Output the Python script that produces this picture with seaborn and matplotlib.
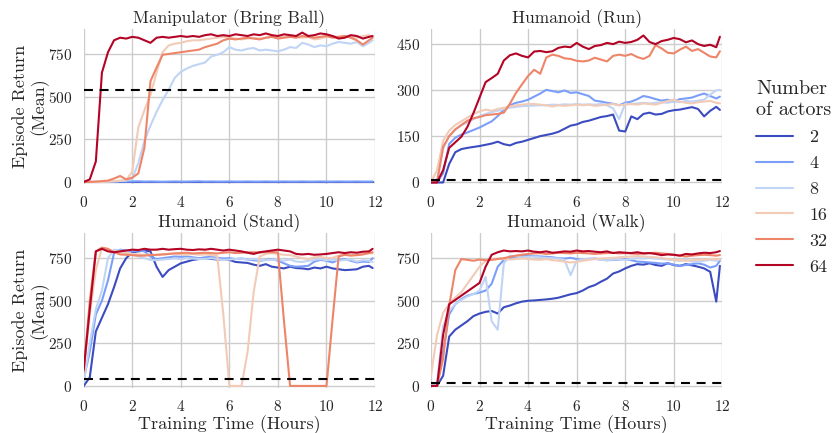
import numpy as np
import pandas as pd
import seaborn as sns
import matplotlib.pyplot as plt
from matplotlib.lines import Line2D

# time grid (hours) shared by every curve
hours = [0.0, 0.25, 0.5, 0.75, 1.0, 1.25, 1.5, 1.75, 2.0, 2.25, 2.5, 2.75,
         3.0, 3.25, 3.5, 3.75, 4.0, 4.25, 4.5, 4.75, 5.0, 5.25, 5.5, 5.75,
         6.0, 6.25, 6.5, 6.75, 7.0, 7.25, 7.5, 7.75, 8.0, 8.25, 8.5, 8.75,
         9.0, 9.25, 9.5, 9.75, 10.0, 10.25, 10.5, 10.75, 11.0, 11.25, 11.5, 11.75, 11.9]

actors = ["2", "4", "8", "16", "32", "64"]

# Manipulator (Bring Ball)
manip_2 = [0, 0, 0, 0, 0, 0, 0, 0, 0, 0, 0, 0,
           0, 0, 0, 0, 0, 0, 0, 0, 0, 0, 0, 0,
           0, 0, 0, 0, 0, 0, 0, 0, 0, 0, 0, 0,
           0, 0, 0, 0, 0, 0, 0, 0, 0, 0, 0, 0, 0]
manip_4 = [0, 0, 0, 0, 1, 2, 3, 2, 3, 4, 2, 3,
           2, 1, 2, 3, 2, 2, 3, 4, 2, 3, 2, 2,
           3, 2, 2, 3, 2, 2, 3, 2, 2, 3, 2, 2,
           3, 2, 2, 3, 2, 2, 3, 2, 2, 3, 2, 2, 3]
manip_8 = [0, 0, 0, 0, 2, 3, 5, 8, 20, 110, 240, 330,
           410, 480, 540, 610, 645, 665, 680, 690, 700, 735, 745, 760,
           790, 775, 770, 780, 785, 770, 775, 770, 765, 775, 790, 785,
           815, 805, 790, 800, 795, 810, 820, 815, 810, 820, 795, 815, 830]
manip_16 = [0, 0, 0, 0, 2, 5, 8, 12, 60, 320, 420, 510,
            640, 760, 800, 810, 815, 825, 830, 830, 835, 840, 845, 850,
            845, 840, 835, 840, 845, 840, 845, 850, 845, 850, 855, 850,
            845, 850, 835, 840, 850, 855, 850, 855, 850, 845, 855, 860, 850]
manip_32 = [0, 0, 2, 5, 8, 20, 35, 15, 25, 50, 200, 590,
            670, 745, 750, 755, 760, 765, 770, 775, 790, 800, 810, 830,
            840, 835, 840, 845, 840, 835, 845, 850, 840, 845, 850, 845,
            855, 850, 845, 850, 855, 845, 850, 855, 845, 830, 805, 830, 845]
manip_64 = [0, 15, 120, 640, 760, 830, 845, 840, 850, 845, 830, 815,
            845, 850, 845, 850, 855, 850, 855, 850, 860, 865, 855, 860,
            855, 865, 860, 855, 865, 860, 870, 860, 855, 865, 860, 855,
            875, 855, 860, 870, 865, 855, 840, 845, 860, 855, 840, 850, 855]

# Humanoid (Run)
run_2 = [0, 0, 0, 60, 98, 108, 112, 115, 118, 122, 126, 132,
         124, 120, 128, 132, 138, 144, 150, 154, 158, 164, 174, 184,
         188, 196, 200, 206, 212, 215, 220, 168, 165, 214, 205, 222,
         226, 220, 222, 230, 234, 236, 240, 244, 238, 214, 232, 245, 235]
run_4 = [0, 0, 30, 125, 145, 155, 162, 170, 178, 188, 198, 215,
         235, 250, 258, 262, 268, 278, 288, 300, 296, 292, 298, 290,
         292, 286, 280, 265, 262, 258, 255, 250, 258, 262, 270, 280,
         276, 270, 265, 268, 262, 270, 272, 275, 282, 288, 280, 272, 278]
run_8 = [0, 10, 110, 150, 170, 185, 195, 205, 215, 222, 228, 232,
         238, 242, 245, 247, 248, 249, 250, 250, 252, 251, 253, 252,
         254, 252, 253, 252, 254, 250, 240, 205, 255, 254, 256, 258,
         256, 258, 260, 258, 262, 260, 264, 262, 265, 268, 285, 298, 300]
run_16 = [0, 40, 135, 168, 186, 198, 210, 222, 230, 236, 232, 238,
          242, 246, 250, 252, 254, 254, 252, 250, 246, 250, 248, 250,
          252, 250, 252, 248, 250, 252, 254, 250, 252, 254, 252, 256,
          254, 252, 258, 264, 268, 262, 258, 256, 260, 262, 264, 258, 256]
run_32 = [0, 0, 115, 150, 172, 186, 200, 208, 212, 218, 220, 222,
          226, 255, 290, 318, 345, 365, 352, 405, 414, 410, 402, 400,
          394, 392, 395, 404, 398, 392, 410, 414, 410, 416, 406, 400,
          410, 445, 434, 420, 418, 430, 440, 426, 432, 420, 408, 405, 425]
run_64 = [0, 0, 40, 112, 130, 148, 180, 225, 275, 325, 338, 352,
          395, 412, 418, 410, 405, 424, 426, 422, 425, 436, 440, 438,
          452, 440, 432, 442, 445, 452, 448, 456, 452, 455, 462, 476,
          455, 448, 458, 462, 468, 464, 454, 460, 448, 442, 446, 438, 472]

# Humanoid (Stand)
stand_2 = [0, 50, 320, 400, 480, 580, 690, 750, 785, 790, 795, 790,
           700, 640, 680, 700, 720, 730, 740, 745, 748, 746, 742, 745,
           740, 728, 725, 722, 712, 705, 715, 700, 695, 690, 700, 692,
           690, 685, 695, 690, 700, 690, 685, 680, 682, 685, 700, 705, 692]
stand_4 = [40, 200, 420, 500, 620, 780, 800, 795, 790, 795, 790, 760,
           745, 750, 755, 760, 758, 760, 755, 750, 755, 758, 752, 748,
           750, 745, 748, 742, 738, 735, 740, 745, 735, 720, 705, 700,
           702, 705, 730, 740, 735, 725, 740, 745, 735, 725, 730, 728, 750]
stand_8 = [20, 250, 450, 560, 750, 800, 795, 790, 770, 760, 750, 740,
           738, 742, 745, 748, 745, 750, 748, 745, 745, 750, 745, 740,
           742, 745, 748, 742, 745, 740, 738, 742, 740, 736, 742, 730,
           728, 735, 740, 745, 738, 742, 735, 740, 742, 730, 738, 735, 728]
stand_16 = [80, 420, 680, 810, 800, 790, 785, 780, 775, 772, 770, 770,
            768, 772, 775, 778, 772, 770, 775, 770, 772, 768, 765, 420,
            0, 0, 0, 200, 550, 760, 775, 780, 775, 770, 768, 760,
            750, 745, 755, 758, 750, 752, 765, 770, 772, 768, 775, 780, 778]
stand_32 = [80, 500, 790, 812, 805, 785, 772, 770, 768, 765, 765, 768,
            770, 772, 775, 778, 780, 782, 778, 780, 782, 780, 778, 782,
            785, 780, 782, 784, 785, 783, 786, 785, 784, 380, 0, 0,
            0, 0, 0, 0, 0, 390, 760, 770, 765, 768, 772, 780, 785]
stand_64 = [95, 450, 790, 805, 790, 785, 790, 795, 800, 798, 805, 800,
            800, 805, 800, 803, 805, 800, 798, 802, 800, 805, 800, 795,
            800, 795, 790, 782, 775, 785, 790, 795, 800, 795, 790, 775,
            772, 775, 770, 772, 775, 780, 785, 780, 785, 782, 788, 790, 805]

# Humanoid (Walk)
walk_2 = [0, 0, 60, 290, 330, 355, 380, 410, 425, 435, 440, 425,
          462, 472, 485, 495, 500, 502, 505, 508, 512, 518, 528, 538,
          545, 560, 580, 592, 612, 630, 660, 672, 690, 705, 715, 712,
          720, 710, 705, 720, 710, 705, 715, 708, 700, 690, 670, 495, 705]
walk_4 = [0, 0, 200, 420, 480, 510, 530, 540, 548, 560, 600, 700,
          740, 750, 758, 762, 765, 762, 760, 758, 755, 750, 748, 752,
          745, 740, 745, 748, 742, 738, 740, 742, 745, 738, 730, 728,
          725, 722, 718, 720, 712, 705, 710, 715, 720, 712, 695, 705, 735]
walk_8 = [0, 20, 350, 440, 480, 505, 525, 540, 560, 640, 380, 330,
          720, 765, 760, 755, 758, 760, 755, 752, 750, 748, 740, 650,
          735, 742, 748, 745, 740, 738, 742, 745, 740, 745, 750, 748,
          752, 748, 745, 742, 738, 735, 740, 730, 728, 735, 740, 735, 742]
walk_16 = [60, 300, 430, 480, 520, 550, 600, 650, 700, 735, 745, 748,
           745, 742, 745, 748, 745, 742, 740, 745, 738, 735, 730, 725,
           728, 735, 740, 745, 748, 750, 752, 755, 758, 760, 762, 760,
           758, 755, 752, 745, 740, 738, 735, 738, 740, 742, 745, 742, 745]
walk_32 = [0, 0, 160, 470, 680, 745, 740, 735, 742, 738, 740, 745,
           750, 758, 765, 770, 775, 778, 780, 775, 778, 782, 780, 778,
           782, 780, 778, 775, 778, 780, 782, 778, 780, 778, 775, 778,
           780, 782, 778, 775, 770, 765, 760, 765, 768, 770, 768, 765, 768]
walk_64 = [0, 0, 300, 480, 505, 530, 555, 580, 605, 700, 770, 785,
           795, 790, 792, 790, 795, 788, 785, 790, 782, 785, 790, 788,
           795, 790, 792, 788, 785, 790, 780, 785, 782, 780, 785, 778,
           780, 775, 768, 772, 770, 765, 775, 772, 778, 782, 780, 785, 792]

titles = ["Manipulator (Bring Ball)", "Humanoid (Run)", "Humanoid (Stand)", "Humanoid (Walk)"]
baselines = [540, 8, 40, 18]
series = [
    [manip_2, manip_4, manip_8, manip_16, manip_32, manip_64],
    [run_2, run_4, run_8, run_16, run_32, run_64],
    [stand_2, stand_4, stand_8, stand_16, stand_32, stand_64],
    [walk_2, walk_4, walk_8, walk_16, walk_32, walk_64],
]
yticks = [[0, 250, 500, 750], [0, 150, 300, 450], [0, 250, 500, 750], [0, 250, 500, 750]]
ylims = [(-12, 896), (-5, 497), (-12, 898), (-12, 898)]

sns.set_theme(style="whitegrid")
plt.rcParams["font.family"] = ["cmr10", "DejaVu Serif"]
plt.rcParams["mathtext.fontset"] = "cm"
plt.rcParams["axes.formatter.use_mathtext"] = True

palette = [plt.cm.coolwarm(v) for v in np.linspace(0, 1, 6)]

fig, axs = plt.subplots(2, 2, figsize=(8.37, 4.33), dpi=100)
fig.subplots_adjust(left=0.100, right=0.863, top=0.933, bottom=0.104,
                    wspace=0.192, hspace=0.316)

for i, ax in enumerate(axs.flat):
    rows = []
    for a, vals in zip(actors, series[i]):
        for h, v in zip(hours, vals):
            rows.append({"hours": h, "ret": v, "actors": a})
    df = pd.DataFrame(rows)
    sns.lineplot(data=df, x="hours", y="ret", hue="actors", hue_order=actors,
                 palette=palette, linewidth=1.5, ax=ax, legend=False)
    ax.axhline(baselines[i], color="black", linestyle=(0, (4.3, 3.2)), linewidth=1.5)
    ax.set_title(titles[i], fontsize=12.5, pad=4)
    ax.set_xlim(0, 12)
    ax.set_xticks([0, 2, 4, 6, 8, 10, 12])
    ax.set_ylim(*ylims[i])
    ax.set_yticks(yticks[i])
    ax.tick_params(labelsize=11, pad=2)
    ax.set_xlabel("Training Time (Hours)" if i >= 2 else "", fontsize=13, labelpad=1)
    ax.set_ylabel("Episode Return\n(Mean)" if i % 2 == 0 else "", fontsize=13,
                  labelpad=0, linespacing=1.1)
    sns.despine(ax=ax, left=True, bottom=True)

handles = [Line2D([0], [0], color=c, lw=1.5) for c in palette]
leg = fig.legend(handles, actors, title="Number\nof actors", loc="center left",
                 bbox_to_anchor=(0.884, 0.590), frameon=False, fontsize=13,
                 title_fontsize=14.5, handlelength=2.05, handletextpad=0.9,
                 labelspacing=0.57, borderpad=0.4)
leg._legend_box.align = "left"

plt.savefig("out.png", dpi=100)
